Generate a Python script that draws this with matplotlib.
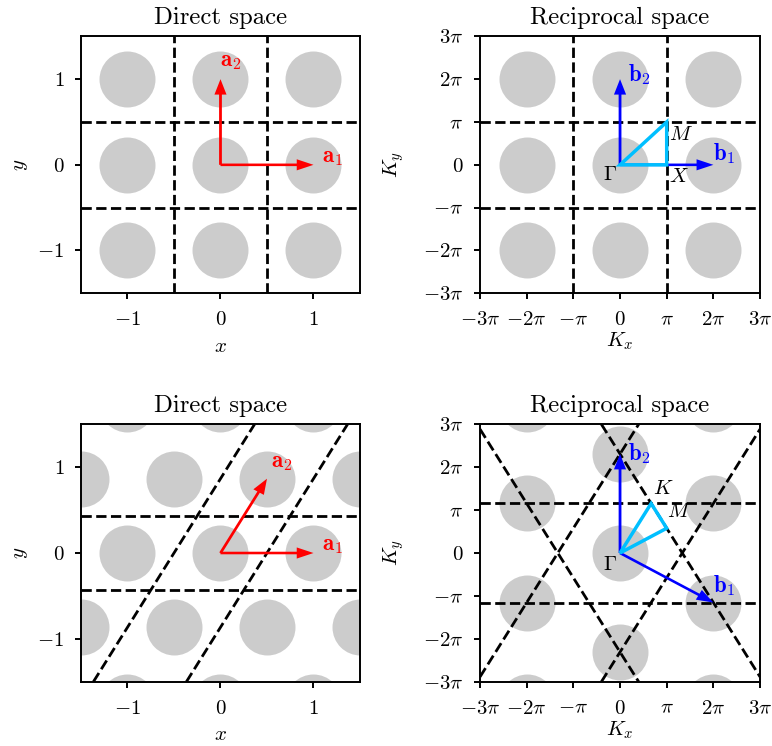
import numpy as np
import matplotlib
matplotlib.use("Agg")
import matplotlib.pyplot as plt
from matplotlib.patches import Polygon

plt.rcParams.update({
    "font.family": "serif",
    "font.serif": ["cmr10"],
    "mathtext.fontset": "cm",
    "axes.unicode_minus": False,
    "font.size": 15,
    "axes.titlesize": 17.8,
    "axes.titlepad": 9,
    "axes.linewidth": 1.4,
    "xtick.major.size": 4.5,
    "ytick.major.size": 4.5,
    "xtick.major.width": 1.4,
    "ytick.major.width": 1.4,
    "xtick.major.pad": 8.5,
    "ytick.major.pad": 7.5,
})

# primitive vectors of the two lattices (direct space)
sq_a1 = np.array([1.0, 0.0])
sq_a2 = np.array([0.0, 1.0])
hex_a1 = np.array([1.0, 0.0])
hex_a2 = np.array([0.5, np.sqrt(3) / 2])
dot_size = 1625   # marker area (pt^2) of the gray lattice sites

direct_ticks = [-1, 0, 1]
direct_ticklabels = [r"$-1$", r"$0$", r"$1$"]
recip_ticks = [-3, -2, -1, 0, 1, 2, 3]   # in units of pi
recip_ticklabels = [r"$-3\pi$", r"$-2\pi$", r"$-\pi$", r"$0$",
                    r"$\pi$", r"$2\pi$", r"$3\pi$"]

# Bragg planes (as integer combos of b1, b2) bounding the first BZ
sq_planes = [(1, 0), (0, 1)]
hex_planes = [(1, 0), (0, 1), (1, 1)]


def reciprocal(a1, a2):
    A = np.array([a1, a2])
    B = 2 * np.pi * np.linalg.inv(A).T
    return B[0], B[1]


def lattice(ax, v1, v2):
    pts = np.array([n1 * v1 + n2 * v2 for n1 in range(-4, 5) for n2 in range(-4, 5)])
    ax.scatter(pts[:, 0], pts[:, 1], s=dot_size, color="0.8", lw=0, zorder=1)


def arrow(ax, v, color, scale):
    ax.arrow(0, 0, v[0], v[1], width=0.03 * scale, head_width=0.13 * scale,
             head_length=0.18 * scale, length_includes_head=True,
             color=color, lw=0, zorder=3)


def label(ax, txt, xy, off, ha, va, color="k", size=15):
    ax.annotate(txt, xy=xy, xytext=off, textcoords="offset points",
                ha=ha, va=va, color=color, fontsize=size, zorder=5)


def direct_panel(ax, a1, a2, a2_off):
    lattice(ax, a1, a2)
    for s in (1, -1):
        ax.axline(s * a1 / 2, s * a1 / 2 + a2, ls="--", color="k", lw=2, zorder=2)
        ax.axline(s * a2 / 2, s * a2 / 2 + a1, ls="--", color="k", lw=2, zorder=2)
    arrow(ax, a1, "r", 1)
    arrow(ax, a2, "r", 1)
    label(ax, r"$\mathbf{a}_1$", a1, (6, -2), "left", "bottom", "r", 16.5)
    label(ax, r"$\mathbf{a}_2$", a2, a2_off, "left", "bottom", "r", 16.5)
    ax.set_xlim(-1.5, 1.5)
    ax.set_ylim(-1.5, 1.5)
    ax.set_xticks(direct_ticks, direct_ticklabels)
    ax.set_yticks(direct_ticks, direct_ticklabels)
    ax.set_xlabel(r"$x$", labelpad=6)
    ax.set_ylabel(r"$y$", labelpad=5)
    ax.set_title("Direct space")


def recip_panel(ax, a1, a2, planes, path, names):
    b1, b2 = reciprocal(a1, a2)
    lattice(ax, b1, b2)
    for m1, m2 in planes:
        for s in (1, -1):
            g = s * (m1 * b1 + m2 * b2)
            mid = g / 2
            d = np.array([-g[1], g[0]])
            ax.axline(mid, mid + d, ls="--", color="k", lw=2, zorder=2)
    arrow(ax, b1, "b", 2 * np.pi)
    arrow(ax, b2, "b", 2 * np.pi)
    pts = [m1 * b1 + m2 * b2 for m1, m2 in path]
    ax.add_patch(Polygon(pts, closed=True, fill=False, ec="deepskyblue",
                         lw=2.5, joinstyle="miter", zorder=4))
    for p, (txt, off, ha, va) in zip(pts, names):
        label(ax, txt, p, off, ha, va)
    ax.set_xlim(-3 * np.pi, 3 * np.pi)
    ax.set_ylim(-3 * np.pi, 3 * np.pi)
    ticks = [t * np.pi for t in recip_ticks]
    ax.set_xticks(ticks, recip_ticklabels)
    ax.set_yticks(ticks, recip_ticklabels)
    ax.set_xlabel(r"$K_x$", labelpad=1)
    ax.set_ylabel(r"$K_y$", labelpad=12)
    ax.set_title("Reciprocal space")
    return b1, b2


fig = plt.figure(figsize=(7.72, 7.46), dpi=100)
ax1 = fig.add_axes([0.1049, 0.6068, 0.3614, 0.3445])
ax2 = fig.add_axes([0.6218, 0.6068, 0.3627, 0.3445])
ax3 = fig.add_axes([0.1049, 0.0862, 0.3614, 0.3450])
ax4 = fig.add_axes([0.6218, 0.0862, 0.3627, 0.3450])

direct_panel(ax1, sq_a1, sq_a2, (0, 5))
b1, b2 = recip_panel(
    ax2, sq_a1, sq_a2, sq_planes,
    [(0, 0), (0.5, 0), (0.5, 0.5)],
    [(r"$\Gamma$", (-2, -1), "right", "top"),
     (r"$X$", (2, -2), "left", "top"),
     (r"$M$", (2, -3), "left", "top")])
label(ax2, r"$\mathbf{b}_1$", b1, (0, -1), "left", "bottom", "b", 16.5)
label(ax2, r"$\mathbf{b}_2$", b2, (6, 3), "left", "center", "b", 16.5)

direct_panel(ax3, hex_a1, hex_a2, (3, 4))
b1, b2 = recip_panel(
    ax4, hex_a1, hex_a2, hex_planes,
    [(0, 0), (1 / 3, 2 / 3), (0.5, 0.5)],
    [(r"$\Gamma$", (-2, -2), "right", "top"),
     (r"$K$", (1, 4), "left", "bottom"),
     (r"$M$", (0, 5), "left", "bottom")])
label(ax4, r"$\mathbf{b}_1$", b1, (0, 3), "left", "bottom", "b", 16.5)
label(ax4, r"$\mathbf{b}_2$", b2, (6, 0), "left", "center", "b", 16.5)

fig.savefig("out.png", dpi=100)
